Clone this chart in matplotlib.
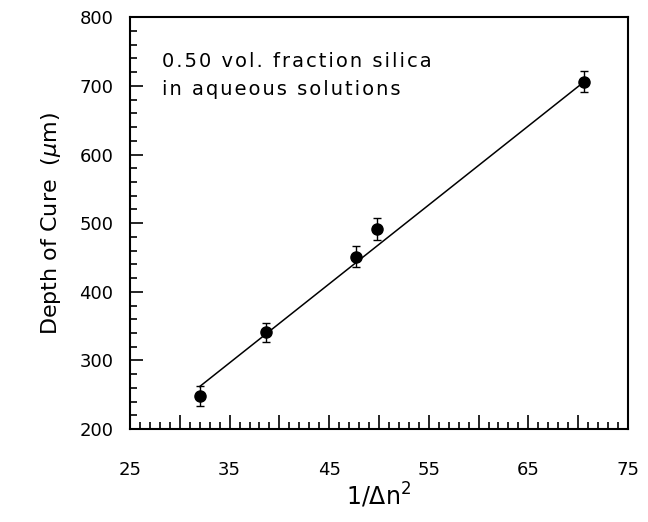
import numpy as np
import matplotlib.pyplot as plt
from matplotlib.ticker import MultipleLocator, FuncFormatter

plt.rcParams['font.family'] = ['DejaVu Sans']
plt.rcParams['mathtext.fontset'] = 'dejavusans'

# data
inv_dn2 = [32.0, 38.7, 47.7, 49.8, 70.6]
depth = [248, 341, 451, 491, 706]
depth_err = [15, 14, 15, 16, 15]

# fitted line end points
fit_x = [32.0, 70.6]
fit_y = [262, 706]

note_lines = ['0.50 vol. fraction silica', 'in aqueous solutions']


def tracked(s):
    # slight letter spacing like the original typeset
    return '\u200a'.join(s)


fig = plt.figure(figsize=(6.48, 5.22), dpi=100)
ax = fig.add_axes([0.2006, 0.178, 0.7685, 0.789])

ax.plot(fit_x, fit_y, color='black', lw=1.1)
ax.errorbar(inv_dn2, depth, yerr=depth_err, fmt='o', color='black',
            ms=8, capsize=3, elinewidth=1.0, capthick=1.0)

ax.set_xlim(25, 75)
ax.set_ylim(200, 800)

ax.xaxis.set_major_locator(MultipleLocator(5))
ax.xaxis.set_minor_locator(MultipleLocator(1))
ax.xaxis.set_major_formatter(FuncFormatter(
    lambda v, p: '%d' % v if int(round(v)) % 10 == 5 else ''))
ax.yaxis.set_major_locator(MultipleLocator(100))
ax.yaxis.set_minor_locator(MultipleLocator(20))

ax.tick_params(which='both', direction='in', top=False, right=False,
               width=1.2, labelsize=13)
ax.tick_params(axis='x', which='major', length=10, pad=23)
ax.tick_params(axis='x', which='minor', length=5)
ax.tick_params(axis='y', which='major', length=9, pad=12)
ax.tick_params(axis='y', which='minor', length=5)

for s in ax.spines.values():
    s.set_linewidth(1.5)

ax.set_xlabel(r'1/$\Delta$n$^2$', fontsize=17, labelpad=1)
ax.set_ylabel(r'Depth of Cure  ($\mu$m)', fontsize=16, labelpad=12)

ax.text(0.064, 0.915, '\n'.join(tracked(l) for l in note_lines),
        transform=ax.transAxes, fontsize=14, va='top', ha='left',
        linespacing=1.6)

plt.savefig('out.png', dpi=100)
